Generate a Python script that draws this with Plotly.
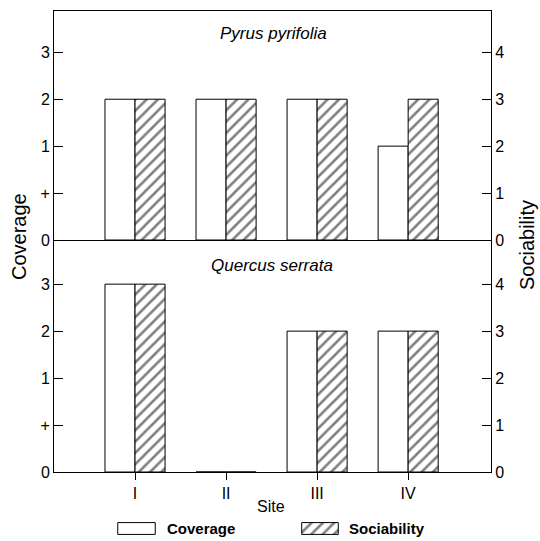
import plotly.graph_objects as go

# ---- data ----
sites = ["I", "II", "III", "IV"]
coverage_levels = ["0", "+", "1", "2", "3"]          # ordinal coverage scale
sociability_ticks = [0, 1, 2, 3, 4]

pyrus_coverage = ["2", "2", "2", "1"]
pyrus_sociability = [3, 3, 3, 3]
quercus_coverage = ["3", "0", "2", "2"]
quercus_sociability = [4, 0, 3, 3]

species = ["Pyrus pyrifolia", "Quercus serrata"]
series_names = ["Coverage", "Sociability"]

def cov_index(vals):
    return [coverage_levels.index(v) for v in vals]

W, H = 540, 541
def px(x):
    return x / W
def py(y):
    return 1 - y / H

FONT = "Liberation Sans, Arial, sans-serif"
hatch = dict(shape="/", fgcolor="black", bgcolor="white", size=8, solidity=0.32)
line = dict(color="black", width=1)

fig = go.Figure()

# top panel
fig.add_trace(go.Bar(x=sites, y=cov_index(pyrus_coverage), name=series_names[0],
                     xaxis="x2", yaxis="y", offsetgroup="cov",
                     marker=dict(color="white", line=line), showlegend=False))
fig.add_trace(go.Bar(x=sites, y=pyrus_sociability, name=series_names[1],
                     xaxis="x2", yaxis="y2", offsetgroup="soc",
                     marker=dict(color="white", pattern=hatch, line=line), showlegend=False))
# bottom panel
fig.add_trace(go.Bar(x=sites, y=cov_index(quercus_coverage), name=series_names[0],
                     xaxis="x", yaxis="y3", offsetgroup="cov",
                     marker=dict(color="white", line=line), showlegend=False))
fig.add_trace(go.Bar(x=sites, y=quercus_sociability, name=series_names[1],
                     xaxis="x", yaxis="y4", offsetgroup="soc",
                     marker=dict(color="white", pattern=hatch, line=line), showlegend=False))

# legend keys (drawn as bars on small hidden axes)
fig.add_trace(go.Bar(x=[0], y=[1], width=[1], xaxis="x3", yaxis="y5",
                     marker=dict(color="white", line=line), showlegend=False, hoverinfo="skip"))
fig.add_trace(go.Bar(x=[0], y=[1], width=[1], xaxis="x4", yaxis="y6",
                     marker=dict(color="white", pattern=hatch, line=line), showlegend=False, hoverinfo="skip"))

xdom = [px(54), px(491)]
top_dom = [py(240), py(11)]
bot_dom = [py(472), py(240)]
xr = [-0.89, 3.91]

tickfont = dict(family=FONT, size=16, color="black")
common_y = dict(showline=True, linecolor="black", linewidth=1, ticks="inside", ticklen=9,
                tickcolor="black", showgrid=False, zeroline=False, tickfont=tickfont,
                fixedrange=True, automargin=False)

hidden = dict(visible=False, showgrid=False, zeroline=False, fixedrange=True, automargin=False)

def ann(text, x, y, size, angle=0, xanchor="center"):
    return dict(text=text, x=px(x), y=py(y), xref="paper", yref="paper", showarrow=False,
                textangle=angle, xanchor=xanchor, yanchor="middle",
                font=dict(family=FONT, size=size, color="black"))

fig.update_layout(
    width=W, height=H, autosize=False,
    margin=dict(l=0, r=0, t=0, b=0, pad=0),
    paper_bgcolor="white", plot_bgcolor="white",
    showlegend=False,
    barmode="group", bargap=0.34, bargroupgap=0,
    font=dict(family=FONT, color="black"),
    xaxis=dict(domain=xdom, anchor="y3", range=xr, type="category", automargin=False,
               showline=True, linecolor="black", linewidth=1, ticks="outside", ticklen=7,
               tickcolor="black", showgrid=False, tickfont=tickfont, fixedrange=True),
    xaxis2=dict(domain=xdom, anchor="y", matches="x", type="category", automargin=False,
                showline=True, mirror=True, linecolor="black", linewidth=1,
                ticks="", showticklabels=False, showgrid=False, fixedrange=True),
    yaxis=dict(domain=top_dom, anchor="x2", range=[0, 4.88],
               tickvals=list(range(len(coverage_levels))), ticktext=coverage_levels, **common_y),
    yaxis2=dict(overlaying="y", anchor="x2", side="right", range=[0, 4.88],
                tickvals=sociability_ticks, **common_y),
    yaxis3=dict(domain=bot_dom, anchor="x", range=[0, 4.94],
                tickvals=list(range(len(coverage_levels))), ticktext=coverage_levels, **common_y),
    yaxis4=dict(overlaying="y3", anchor="x", side="right", range=[0, 4.94],
                tickvals=sociability_ticks, **common_y),
    xaxis3=dict(domain=[px(117), px(156)], anchor="y5", range=[-0.52, 0.52], **hidden),
    yaxis5=dict(domain=[py(535), py(522)], anchor="x3", range=[-0.05, 1.05], **hidden),
    xaxis4=dict(domain=[px(301), px(339)], anchor="y6", range=[-0.52, 0.52], **hidden),
    yaxis6=dict(domain=[py(535), py(522)], anchor="x4", range=[-0.05, 1.05], **hidden),
    annotations=[
        ann("<i>" + species[0] + "</i>", 273, 33, 17),
        ann("<i>" + species[1] + "</i>", 272, 265, 17),
        ann("Coverage", 19, 237, 20, angle=-90),
        ann("Sociability", 527, 245, 20, angle=-90),
        ann("Site", 271, 506, 16),
        ann("<b>" + series_names[0] + "</b>", 165, 528, 15, xanchor="left"),
        ann("<b>" + series_names[1] + "</b>", 347, 528, 15, xanchor="left"),
    ],
)

fig.write_html("out.html",
               config={"displayModeBar": False, "responsive": False},
               post_script="document.body.style.margin='0';")
